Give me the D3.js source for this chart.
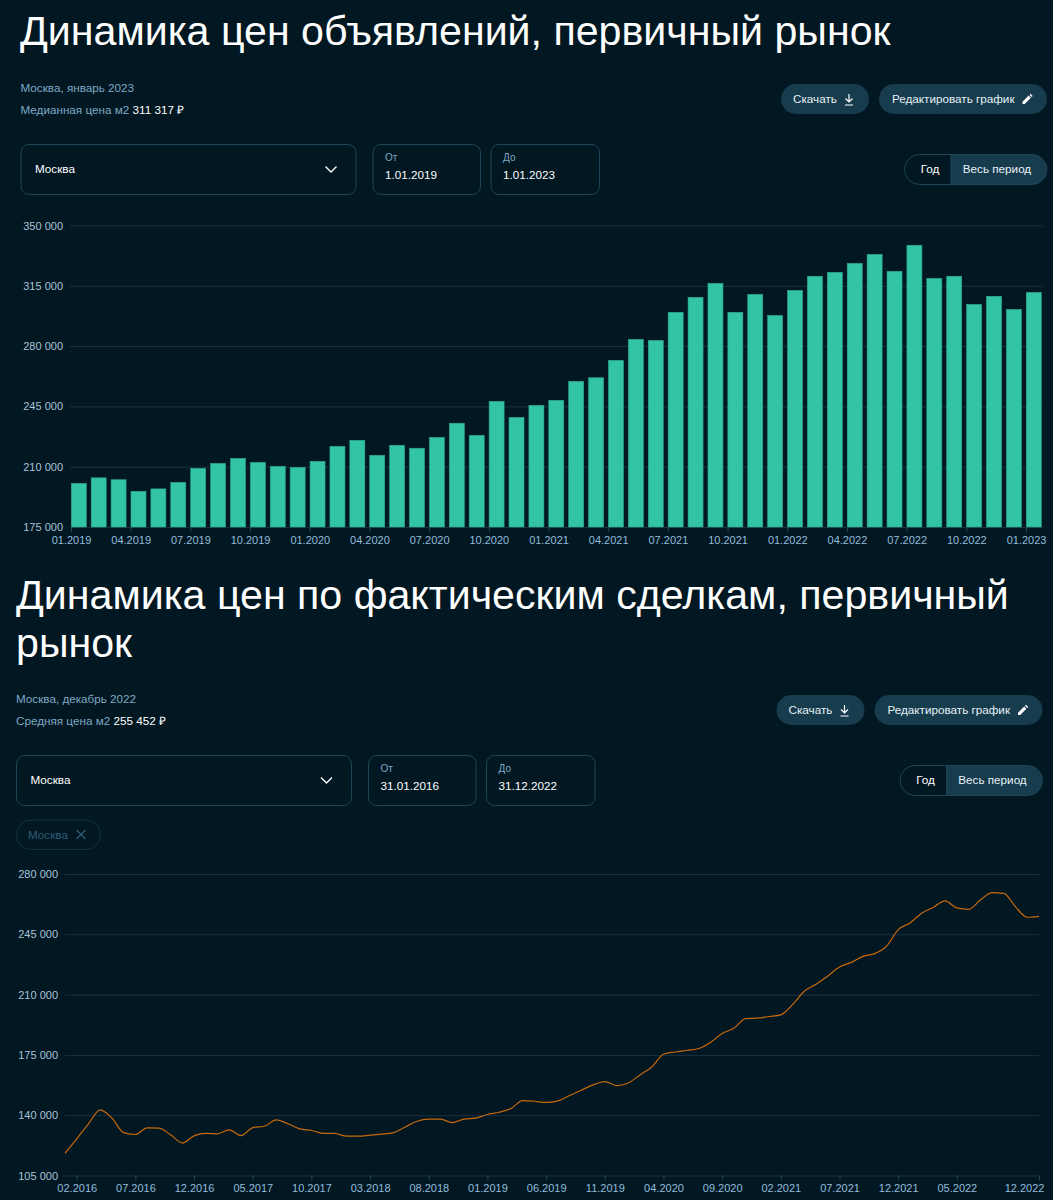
<!DOCTYPE html>
<html>
<head>
<meta charset="utf-8">
<script src="https://cdn.jsdelivr.net/npm/d3@7"></script>
<style>
html, body { margin: 0; padding: 0; background: #011722; }
svg { display: block; font-family: "Liberation Sans", Arial, sans-serif; }
</style>
</head>
<body>
<div id="chart"></div>
<script>
// listing prices, primary market
var barMonths = ["01.2019","02.2019","03.2019","04.2019","05.2019","06.2019","07.2019","08.2019","09.2019","10.2019","11.2019","12.2019",
    "01.2020","02.2020","03.2020","04.2020","05.2020","06.2020","07.2020","08.2020","09.2020","10.2020","11.2020","12.2020",
    "01.2021","02.2021","03.2021","04.2021","05.2021","06.2021","07.2021","08.2021","09.2021","10.2021","11.2021","12.2021",
    "01.2022","02.2022","03.2022","04.2022","05.2022","06.2022","07.2022","08.2022","09.2022","10.2022","11.2022","12.2022","01.2023"];
var barValues = [200500,203700,202600,195900,197300,201100,209200,212100,215000,212700,210400,209800,
    213300,222000,225500,216800,222600,220900,227200,235400,228400,248100,238800,245800,
    248700,259700,261800,271900,284100,283500,299800,308500,316600,299800,310200,298000,
    312500,320700,323000,328200,333400,323600,338700,319500,320700,304400,309100,301500,311317];
var barXTicks = ["01.2019","04.2019","07.2019","10.2019","01.2020","04.2020","07.2020","10.2020","01.2021","04.2021","07.2021","10.2021","01.2022","04.2022","07.2022","10.2022","01.2023"];
var barYTicks = [175000,210000,245000,280000,315000,350000];

// actual deals, primary market
var lineMonths = ["01.2016","02.2016","03.2016","04.2016","05.2016","06.2016","07.2016","08.2016","09.2016","10.2016","11.2016","12.2016",
    "01.2017","02.2017","03.2017","04.2017","05.2017","06.2017","07.2017","08.2017","09.2017","10.2017","11.2017","12.2017",
    "01.2018","02.2018","03.2018","04.2018","05.2018","06.2018","07.2018","08.2018","09.2018","10.2018","11.2018","12.2018",
    "01.2019","02.2019","03.2019","04.2019","05.2019","06.2019","07.2019","08.2019","09.2019","10.2019","11.2019","12.2019",
    "01.2020","02.2020","03.2020","04.2020","05.2020","06.2020","07.2020","08.2020","09.2020","10.2020","11.2020","12.2020",
    "01.2021","02.2021","03.2021","04.2021","05.2021","06.2021","07.2021","08.2021","09.2021","10.2021","11.2021","12.2021",
    "01.2022","02.2022","03.2022","04.2022","05.2022","06.2022","07.2022","08.2022","09.2022","10.2022","11.2022","12.2022"];
var lineValues = [117900,126300,135000,143100,138300,129900,128800,132600,132500,128600,123900,128000,
    129400,129200,131500,128200,132800,133600,137300,135000,132100,131100,129500,129400,
    127800,127800,128400,129000,129900,133200,136500,137700,137700,135700,137700,138300,
    140400,141700,143900,148500,148100,147400,148300,151400,154500,157600,159500,157200,
    158700,163400,168000,175400,176700,177700,178700,182200,187400,190500,196100,196300,
    197300,198200,204200,211900,216000,220800,226000,228700,232200,233800,238000,247700,
    251600,257200,260700,264400,260300,259500,264900,269200,268800,260900,254900,255452];
var lineXTicks = ["02.2016","07.2016","12.2016","05.2017","10.2017","03.2018","08.2018","01.2019","06.2019","11.2019","04.2020","09.2020","02.2021","07.2021","12.2021","05.2022","12.2022"];
var lineYTicks = [105000,140000,175000,210000,245000,280000];

var bg = "#011722",
    gridColor = "#1a3142",
    yLabel = "#a8c4d8",
    xLabel = "#93bddb",
    subBlue = "#7fa9c4",
    panelStroke = "#1f4558",
    btnFill = "#163c4e",
    barColor = "#33c4a5",
    barEdge = "#2ba88e",
    lineColor = "#c8690c",
    uiSize = 11.7,
    tickSize = 11;

var fmt = d3.formatLocale({decimal: ",", thousands: " ", grouping: [3], currency: ["", ""]}).format(",");

var svg = d3.select("#chart").append("svg")
    .attr("width", 1053)
    .attr("height", 1200);
svg.append("rect").attr("width", 1053).attr("height", 1200).attr("fill", bg);

function text(g, x, y, s, size, color, anchor) {
    return g.append("text")
        .attr("x", x).attr("y", y)
        .attr("font-size", size)
        .attr("fill", color)
        .attr("text-anchor", anchor || "start")
        .attr("dominant-baseline", "central")
        .text(s);
}

function box(g, x, y, w, h, r, fill, stroke) {
    return g.append("rect")
        .attr("x", x).attr("y", y).attr("width", w).attr("height", h)
        .attr("rx", r).attr("ry", r)
        .attr("fill", fill).attr("stroke", stroke || "none");
}

// the controls above a chart, positioned for the first one and shifted by dx, dy
function controls(dx, dy, o) {
    var g = svg.append("g").attr("transform", "translate(" + dx + "," + dy + ")");

    text(g, 20.5, 87.3, o.place, uiSize, subBlue);
    var lab = text(g, 20.5, 109.3, o.priceLabel + " ", uiSize, subBlue);
    lab.append("tspan").attr("fill", "#fff").text(o.price);

    // buttons
    box(g, 781, 84, 88, 30, 15, btnFill);
    text(g, 793, 98.3, "Скачать", uiSize, "#e6f0f5");
    g.append("path").attr("d", "M849 94v8M845.5 98.5l3.5 3.5 3.5-3.5M845 105h8")
        .attr("fill", "none").attr("stroke", "#fff").attr("stroke-width", 1.2);

    box(g, 879, 84, 168, 30, 15, btnFill);
    text(g, 892, 98.3, "Редактировать график", uiSize, "#e6f0f5");
    g.append("path").attr("d", "M1022.5 104v-2.2l6.2-6.2 2.2 2.2-6.2 6.2z M1029.5 94.8l1-1 2.2 2.2-1 1z")
        .attr("fill", "#fff");

    // select and dates
    box(g, 21, 144.5, 335, 50, 8, "none", panelStroke);
    text(g, 35, 168.8, "Москва", uiSize, "#fff");
    g.append("path").attr("d", "M325.5 166.5l5.5 5.5 5.5-5.5")
        .attr("fill", "none").attr("stroke", "#fff").attr("stroke-width", 1.4);

    box(g, 373, 144.5, 107.5, 50, 8, "none", panelStroke);
    text(g, 385, 157, "От", 10, subBlue);
    text(g, 385, 174.8, o.from, uiSize, "#fff");
    box(g, 491, 144.5, 108.5, 50, 8, "none", panelStroke);
    text(g, 503, 157, "До", 10, subBlue);
    text(g, 503, 174.8, o.to, uiSize, "#fff");

    // period toggle
    g.append("path")
        .attr("d", "M951 154.5H1032a15 15 0 0 1 0 30H951z")
        .attr("fill", btnFill);
    box(g, 904.5, 154.5, 142.5, 30, 15, "none", panelStroke);
    g.append("line").attr("x1", 951).attr("x2", 951).attr("y1", 154.5).attr("y2", 184.5).attr("stroke", panelStroke);
    text(g, 930, 168.8, "Год", uiSize, "#fff", "middle");
    text(g, 997, 168.8, "Весь период", uiSize, "#e6f0f5", "middle");

    return g;
}

function yAxis(g, y, ticks, left, right) {
    var ax = g.append("g")
        .attr("transform", "translate(" + left + ",0)")
        .call(d3.axisLeft(y).tickValues(ticks).tickFormat(fmt).tickSize(-(right - left)).tickPadding(7));
    ax.select(".domain").remove();
    ax.selectAll("line").attr("stroke", gridColor);
    ax.selectAll("text").attr("fill", yLabel).attr("font-size", tickSize).attr("font-family", "Liberation Sans");
}

function xAxis(g, x, ticks, bottom) {
    var ax = g.append("g")
        .attr("transform", "translate(0," + bottom + ")")
        .call(d3.axisBottom(x).tickValues(ticks).tickSize(5).tickSizeOuter(0).tickPadding(4));
    ax.select(".domain").remove();
    ax.selectAll("line").attr("stroke", "#24465a");
    ax.selectAll("text").attr("fill", xLabel).attr("font-size", tickSize).attr("font-family", "Liberation Sans");
    return ax;
}

// ---- first chart: bars
text(svg, 20, 31, "Динамика цен объявлений, первичный рынок", 41.15, "#fff");
controls(0, 0, {place: "Москва, январь 2023", priceLabel: "Медианная цена м2", price: "311 317 ₽", from: "1.01.2019", to: "1.01.2023"});

var barX = d3.scalePoint().domain(barMonths).range([71, 1026]);
var barY = d3.scaleLinear().domain([175000, 350000]).range([527, 225.5]);

yAxis(svg, barY, barYTicks, 70, 1043);

svg.append("g").selectAll("rect")
    .data(barValues)
    .join("rect")
    .attr("x", function(d, i) { return barX(barMonths[i]) + 0.3; })
    .attr("y", function(d) { return barY(d) + 0.3; })
    .attr("width", barX.step() - 4.9)
    .attr("height", function(d) { return barY(175000) - barY(d) - 0.3; })
    .attr("fill", barColor)
    .attr("stroke", barEdge)
    .attr("stroke-width", 0.6);

xAxis(svg, barX, barXTicks, 527);

// ---- second chart: line
text(svg, 16, 595, "Динамика цен по фактическим сделкам, первичный", 41.15, "#fff");
text(svg, 16, 643, "рынок", 41.15, "#fff");
controls(-4.5, 611, {place: "Москва, декабрь 2022", priceLabel: "Средняя цена м2", price: "255 452 ₽", from: "31.01.2016", to: "31.12.2022"});

// tag under the select
box(svg, 16.5, 820, 84, 29.5, 14.7, "none", "#143243");
text(svg, 28, 834.2, "Москва", uiSize, "#2f5d75");
svg.append("path").attr("d", "M76.5 830l9 9M85.5 830l-9 9")
    .attr("stroke", "#2f5d75").attr("stroke-width", 1.2).attr("fill", "none");

var lineX = d3.scalePoint().domain(lineMonths).range([65, 1039]);
var lineY = d3.scaleLinear().domain([105000, 280000]).range([1175.5, 874]);

yAxis(svg, lineY, lineYTicks, 65, 1039);
var lineAx = xAxis(svg, lineX, lineXTicks, 1175.5);
// last label is pushed left so it stays on the page
lineAx.selectAll("text").filter(function(d) { return d === "12.2022"; }).attr("dx", -15);

var line = d3.line()
    .x(function(d, i) { return lineX(lineMonths[i]); })
    .y(function(d) { return lineY(d); })
    .curve(d3.curveMonotoneX);

svg.append("path")
    .datum(lineValues)
    .attr("d", line)
    .attr("fill", "none")
    .attr("stroke", lineColor)
    .attr("stroke-width", 1.2);
</script>
</body>
</html>
